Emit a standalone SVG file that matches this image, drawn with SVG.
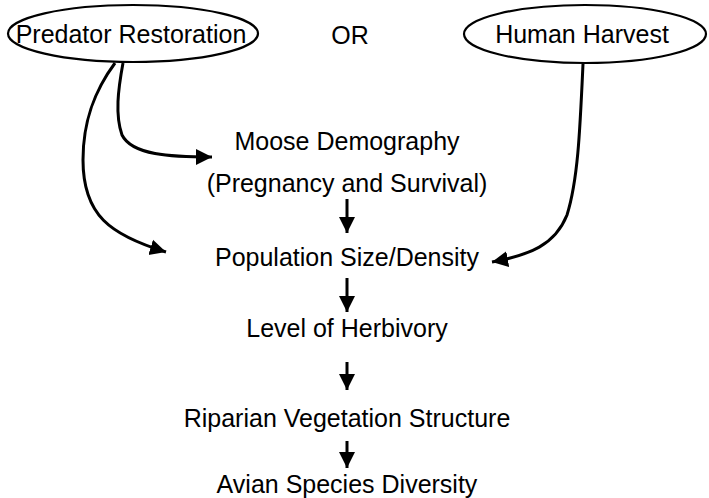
<svg xmlns="http://www.w3.org/2000/svg" width="709" height="498" viewBox="0 0 709 498">
<style>
.t{font-family:"Liberation Sans",Arial,sans-serif;font-size:25px;fill:#000;text-anchor:middle}
.e{fill:#fff;stroke:#000;stroke-width:2.2}
.c{fill:none;stroke:#000;stroke-width:3}
</style>
<defs>
<marker id="ah" markerUnits="userSpaceOnUse" markerWidth="18" markerHeight="18" viewBox="0 0 18 18" refX="16" refY="9" orient="auto">
<path d="M0,1 L16,9 L0,17 Z" fill="#000"/>
</marker>
</defs>
<rect width="709" height="498" fill="#fff"/>
<g id="connectors">
<path class="c" d="M115,63 C95,90 83,120 83,160 C83,215 110,235 166,252" marker-end="url(#ah)"/>
<path class="c" d="M123,63 C118,90 115,115 122,135 C132,155 170,157 212,157" marker-end="url(#ah)"/>
<path class="c" d="M583,64 C580,130 578,180 567,215 C555,245 530,255 492,262" marker-end="url(#ah)"/>
<path class="c" d="M347,199 L347,233" marker-end="url(#ah)"/>
<path class="c" d="M347,278 L347,312" marker-end="url(#ah)"/>
<path class="c" d="M347,362 L347,390" marker-end="url(#ah)"/>
<path class="c" d="M347,441 L347,468" marker-end="url(#ah)"/>
</g>
<g id="predator">
<ellipse class="e" cx="133" cy="33.5" rx="125" ry="28.5"/>
<text class="t" x="131" y="43">Predator Restoration</text>
</g>
<g id="or"><text class="t" x="350" y="44">OR</text></g>
<g id="harvest">
<ellipse class="e" cx="585" cy="34" rx="121" ry="29"/>
<text class="t" x="582" y="43">Human Harvest</text>
</g>
<g id="moose">
<text class="t" x="347" y="150">Moose Demography</text>
<text class="t" x="347" y="192">(Pregnancy and Survival)</text>
</g>
<g id="population"><text class="t" x="347" y="266">Population Size/Density</text></g>
<g id="herbivory"><text class="t" x="347" y="337">Level of Herbivory</text></g>
<g id="riparian"><text class="t" x="347" y="427">Riparian Vegetation Structure</text></g>
<g id="avian"><text class="t" x="347" y="493">Avian Species Diversity</text></g>
</svg>
